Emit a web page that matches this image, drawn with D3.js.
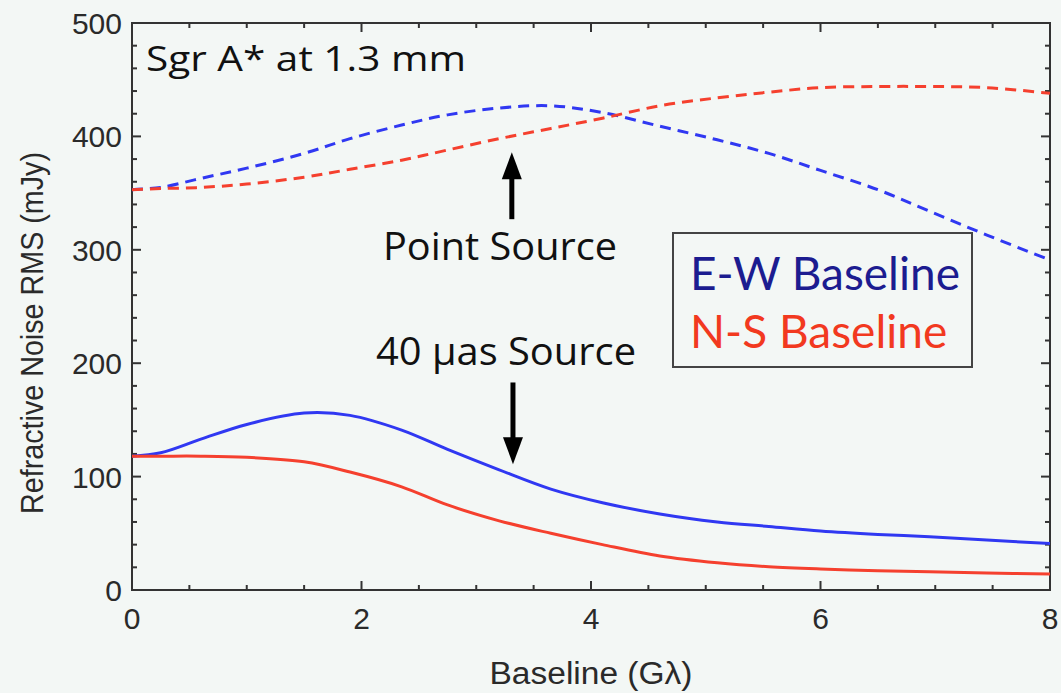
<!DOCTYPE html>
<html>
<head>
<meta charset="utf-8">
<script src="https://cdn.jsdelivr.net/npm/d3@7"></script>
<style>
  html, body { margin: 0; padding: 0; background: #f3f7f5; }
  svg { display: block; }
</style>
</head>
<body>
<svg id="app" width="1061" height="693"></svg>
<script>
// baseline (G lambda) sample positions
const baseline = [0, 0.25, 0.6, 1.0, 1.5, 1.9, 2.35, 2.75, 3.2, 3.65, 4.1, 4.6, 5.1, 5.55, 6.0, 6.5, 6.95, 7.45, 8.0]

// refractive noise rms (mJy)
const ewPoint = [353, 355, 363, 372, 385, 398, 410, 419, 425, 427, 421, 409, 397, 385, 370, 353, 334, 313, 291]
const nsPoint = [353, 354, 355, 358, 364, 371, 379, 388, 398, 407, 416, 427, 434, 439, 443, 444, 444, 443, 438]
const ewSource = [118, 121, 133, 146, 156, 154, 141, 124, 106, 89, 77, 67, 60, 56, 52, 49, 47, 44, 41]
const nsSource = [118, 118, 118, 117, 113, 104, 91, 75, 61, 50, 40, 30, 24, 20.5, 18.5, 17, 16, 15, 14]

const xTicks = [0, 2, 4, 6, 8]
const yTicks = [0, 100, 200, 300, 400, 500]

const blue = '#3038f2'
const red = '#f5402e'
const axisColor = '#333333'

let svg = d3.select('#app')

const pLeft = 132, pRight = 1050, pTop = 23, pBottom = 590

let x = d3.scaleLinear().domain([0, 8]).range([pLeft, pRight])
let y = d3.scaleLinear().domain([0, 500]).range([pBottom, pTop])

const minorX = d3.range(0, 8.01, 0.5)
const minorY = d3.range(0, 501, 20)

let axesG = svg.append('g')
let linesG = svg.append('g')
let annoG = svg.append('g')

// frame
axesG.append('rect')
.attr('x', pLeft)
.attr('y', pTop)
.attr('width', pRight - pLeft)
.attr('height', pBottom - pTop)
.attr('fill', 'none')
.attr('stroke', axisColor)
.attr('stroke-width', 2)

// inward ticks on all four sides
const major = v => Math.abs(v % 2) < 1e-6
axesG.selectAll('line.xb')
.data(minorX)
.enter()
.append('line')
.attr('x1', d=>x(d)).attr('x2', d=>x(d))
.attr('y1', pBottom).attr('y2', d=> pBottom - (major(d) ? 9 : 5))
.attr('stroke', axisColor).attr('stroke-width', 2)

axesG.selectAll('line.xt')
.data(minorX)
.enter()
.append('line')
.attr('x1', d=>x(d)).attr('x2', d=>x(d))
.attr('y1', pTop).attr('y2', d=> pTop + (major(d) ? 9 : 5))
.attr('stroke', axisColor).attr('stroke-width', 2)

axesG.selectAll('line.yl')
.data(minorY)
.enter()
.append('line')
.attr('y1', d=>y(d)).attr('y2', d=>y(d))
.attr('x1', pLeft).attr('x2', d=> pLeft + (d % 100 === 0 ? 9 : 5))
.attr('stroke', axisColor).attr('stroke-width', 2)

axesG.selectAll('line.yr')
.data(minorY)
.enter()
.append('line')
.attr('y1', d=>y(d)).attr('y2', d=>y(d))
.attr('x1', pRight).attr('x2', d=> pRight - (d % 100 === 0 ? 9 : 5))
.attr('stroke', axisColor).attr('stroke-width', 2)

// tick labels
axesG.selectAll('text.xl')
.data(xTicks)
.enter()
.append('text')
.attr('x', d=>x(d))
.attr('y', 629)
.attr('text-anchor', 'middle')
.attr('font-family', 'Liberation Sans, Arial, sans-serif')
.attr('font-size', 30)
.attr('fill', '#2a2a2a')
.text(d=>d)

axesG.selectAll('text.yl')
.data(yTicks)
.enter()
.append('text')
.attr('x', 122)
.attr('y', d=>y(d) + 11)
.attr('text-anchor', 'end')
.attr('font-family', 'Liberation Sans, Arial, sans-serif')
.attr('font-size', 30)
.attr('fill', '#2a2a2a')
.text(d=>d)

// axis titles
axesG.append('text')
.attr('x', 591)
.attr('y', 684)
.attr('text-anchor', 'middle')
.attr('font-family', 'Liberation Sans, Arial, sans-serif')
.attr('font-size', 31)
.attr('fill', '#2a2a2a')
.attr('textLength', 203)
.attr('lengthAdjust', 'spacingAndGlyphs')
.text('Baseline (Gλ)')

axesG.append('text')
.attr('transform', 'translate(43,333) rotate(-90)')
.attr('text-anchor', 'middle')
.attr('font-family', 'Liberation Sans, Arial, sans-serif')
.attr('font-size', 32)
.attr('fill', '#2a2a2a')
.attr('textLength', 362)
.attr('lengthAdjust', 'spacingAndGlyphs')
.text('Refractive Noise RMS (mJy)')

// curves
const series = [
  {vals: ewPoint, color: blue, dash: '11,7'},
  {vals: nsPoint, color: red, dash: '11,7'},
  {vals: ewSource, color: blue, dash: null},
  {vals: nsSource, color: red, dash: null},
]

let line = d3.line()
.x(d=>x(d[0]))
.y(d=>y(d[1]))
.curve(d3.curveCatmullRom.alpha(0.5))

linesG.selectAll('path')
.data(series)
.enter()
.append('path')
.attr('d', d=>line(baseline.map((b,i)=>[b, d.vals[i]])))
.attr('fill', 'none')
.attr('stroke', d=>d.color)
.attr('stroke-width', 3)
.attr('stroke-dasharray', d=>d.dash)

// arrows (data coordinates: x, tail value, tip value)
const arrows = [
  {bx: 3.31, from: 327, to: 386},
  {bx: 3.32, from: 183, to: 111},
]
arrows.forEach(a => {
  const ax = x(a.bx), y0 = y(a.from), y1 = y(a.to)
  const dir = y1 < y0 ? 1 : -1
  const headLen = 27, headW = 10
  annoG.append('line')
  .attr('x1', ax).attr('x2', ax)
  .attr('y1', y0).attr('y2', y1 + dir*headLen - dir*2)
  .attr('stroke', 'black').attr('stroke-width', 5)
  annoG.append('path')
  .attr('d', `M ${ax} ${y1} L ${ax-headW} ${y1+dir*headLen} L ${ax+headW} ${y1+dir*headLen} Z`)
  .attr('fill', 'black')
})

const annoFont = 'Open Sans, Lato, sans-serif'

annoG.append('text')
.attr('x', 146)
.attr('y', 71)
.attr('font-family', annoFont)
.attr('font-size', 35)
.attr('fill', '#111')
.attr('textLength', 320)
.attr('lengthAdjust', 'spacingAndGlyphs')
.text('Sgr A* at 1.3 mm')

annoG.append('text')
.attr('x', 383)
.attr('y', 260)
.attr('font-family', annoFont)
.attr('font-size', 38)
.attr('fill', '#111')
.attr('textLength', 234)
.attr('lengthAdjust', 'spacingAndGlyphs')
.text('Point Source')

annoG.append('text')
.attr('x', 376)
.attr('y', 365)
.attr('font-family', annoFont)
.attr('font-size', 38)
.attr('fill', '#111')
.attr('textLength', 260)
.attr('lengthAdjust', 'spacingAndGlyphs')
.text('40 μas Source')

// legend
let legG = svg.append('g')
legG.append('rect')
.attr('x', 673).attr('y', 233)
.attr('width', 299).attr('height', 134)
.attr('fill', 'none')
.attr('stroke', '#444')
.attr('stroke-width', 2)

const legendLabels = ['E-W Baseline', 'N-S Baseline']
const legendColors = ['#1c1c90', '#f2391f']
legG.selectAll('text')
.data(legendLabels)
.enter()
.append('text')
.attr('x', 690)
.attr('y', (d,i)=>290 + i*58)
.attr('font-family', 'Lato, Open Sans, sans-serif')
.attr('font-size', 46)
.attr('fill', (d,i)=>legendColors[i])
.text(d=>d)
</script>
</body>
</html>
